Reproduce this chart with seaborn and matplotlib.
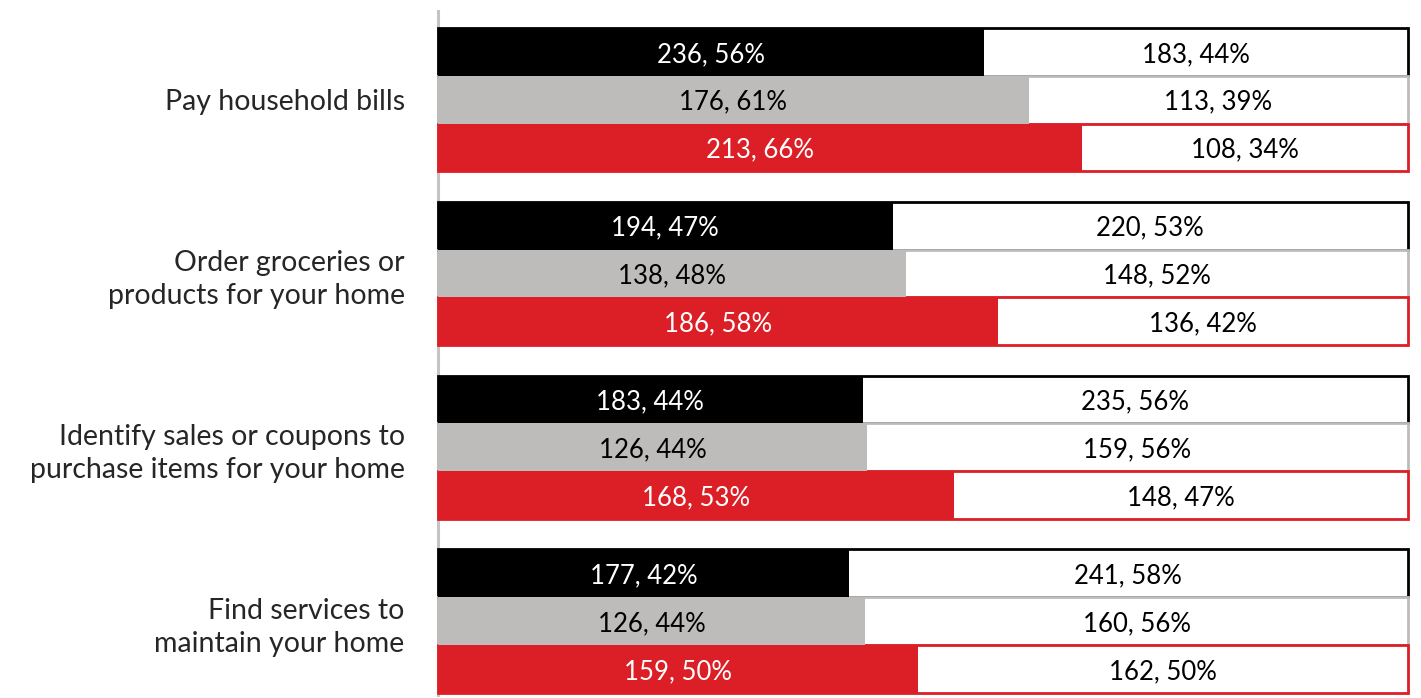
import pandas as pd
import matplotlib
matplotlib.use("Agg")
import matplotlib.pyplot as plt
import seaborn as sns

# Data
tasks = [
    "Pay household bills",
    "Order groceries or\nproducts for your home",
    "Identify sales or coupons to\npurchase items for your home",
    "Find services to\nmaintain your home",
]
segments = ["Group 1", "Group 2", "Group 3"]
yes_counts = [[236, 176, 213], [194, 138, 186], [183, 126, 168], [177, 126, 159]]
no_counts = [[183, 113, 108], [220, 148, 136], [235, 159, 148], [241, 160, 162]]

fill_colors = ["#000000", "#BDBCBA", "#DC1F26"]
fill_text = ["white", "black", "white"]

rows = []
for t, ys, ns in zip(tasks, yes_counts, no_counts):
    for seg, y, n in zip(segments, ys, ns):
        total = y + n
        rows.append({"task": t, "segment": seg, "yes": y, "no": n,
                     "yes_share": y / total, "no_share": n / total, "full": 1.0})
df = pd.DataFrame(rows)

sns.set_style("white")
plt.rcParams["font.family"] = ["Lato", "DejaVu Sans"]

fig = plt.figure(figsize=(14.21, 6.98), dpi=100)
ax = fig.add_axes([438 / 1421, 3 / 698, 970 / 1421, 684 / 698])

# white outlined boxes spanning the whole row, then filled share on top
sns.barplot(data=df, x="full", y="task", hue="segment", orient="h",
            palette=["white"] * 3, width=0.825, dodge=True, legend=False,
            ax=ax, saturation=1, zorder=1)
for cont, col in zip(ax.containers, fill_colors):
    for p in cont:
        p.set_edgecolor(col)
        p.set_linewidth(2.0)
        p.set_clip_on(False)
n_white = len(ax.containers)

sns.barplot(data=df, x="yes_share", y="task", hue="segment", orient="h",
            palette=fill_colors, width=0.825, dodge=True, legend=False,
            ax=ax, saturation=1, zorder=2)
fill_conts = ax.containers[n_white:]

fs = 18.5
for k, (seg, cont) in enumerate(zip(segments, fill_conts)):
    sub = df[df["segment"] == seg].reset_index(drop=True)
    for i, p in enumerate(cont):
        p.set_linewidth(0)
        r = sub.iloc[i]
        yc = p.get_y() + p.get_height() / 2
        ax.text(r["yes_share"] / 2, yc, f"{r['yes']}, {round(r['yes_share'] * 100):.0f}%",
                ha="center", va="center_baseline", color=fill_text[k], fontsize=fs, zorder=3)
        ax.text((r["yes_share"] + 1) / 2, yc, f"{r['no']}, {round(r['no_share'] * 100):.0f}%",
                ha="center", va="center_baseline", color="black", fontsize=fs, zorder=3)

ax.set_xlim(0, 1.0)
ax.set_ylim(3.425, -0.51)
ax.set_xlabel("")
ax.set_ylabel("")
ax.set_xticks([])
ax.tick_params(axis="y", length=0, pad=24, labelsize=20.5)
for lbl in ax.get_yticklabels():
    lbl.set_horizontalalignment("right")
    lbl.set_linespacing(1.35)
for s in ["top", "right", "bottom"]:
    ax.spines[s].set_visible(False)
ax.spines["left"].set_color("#C4C4C4")
ax.spines["left"].set_linewidth(2.2)
ax.spines["left"].set_zorder(0)

fig.savefig("out.png", dpi=100)
